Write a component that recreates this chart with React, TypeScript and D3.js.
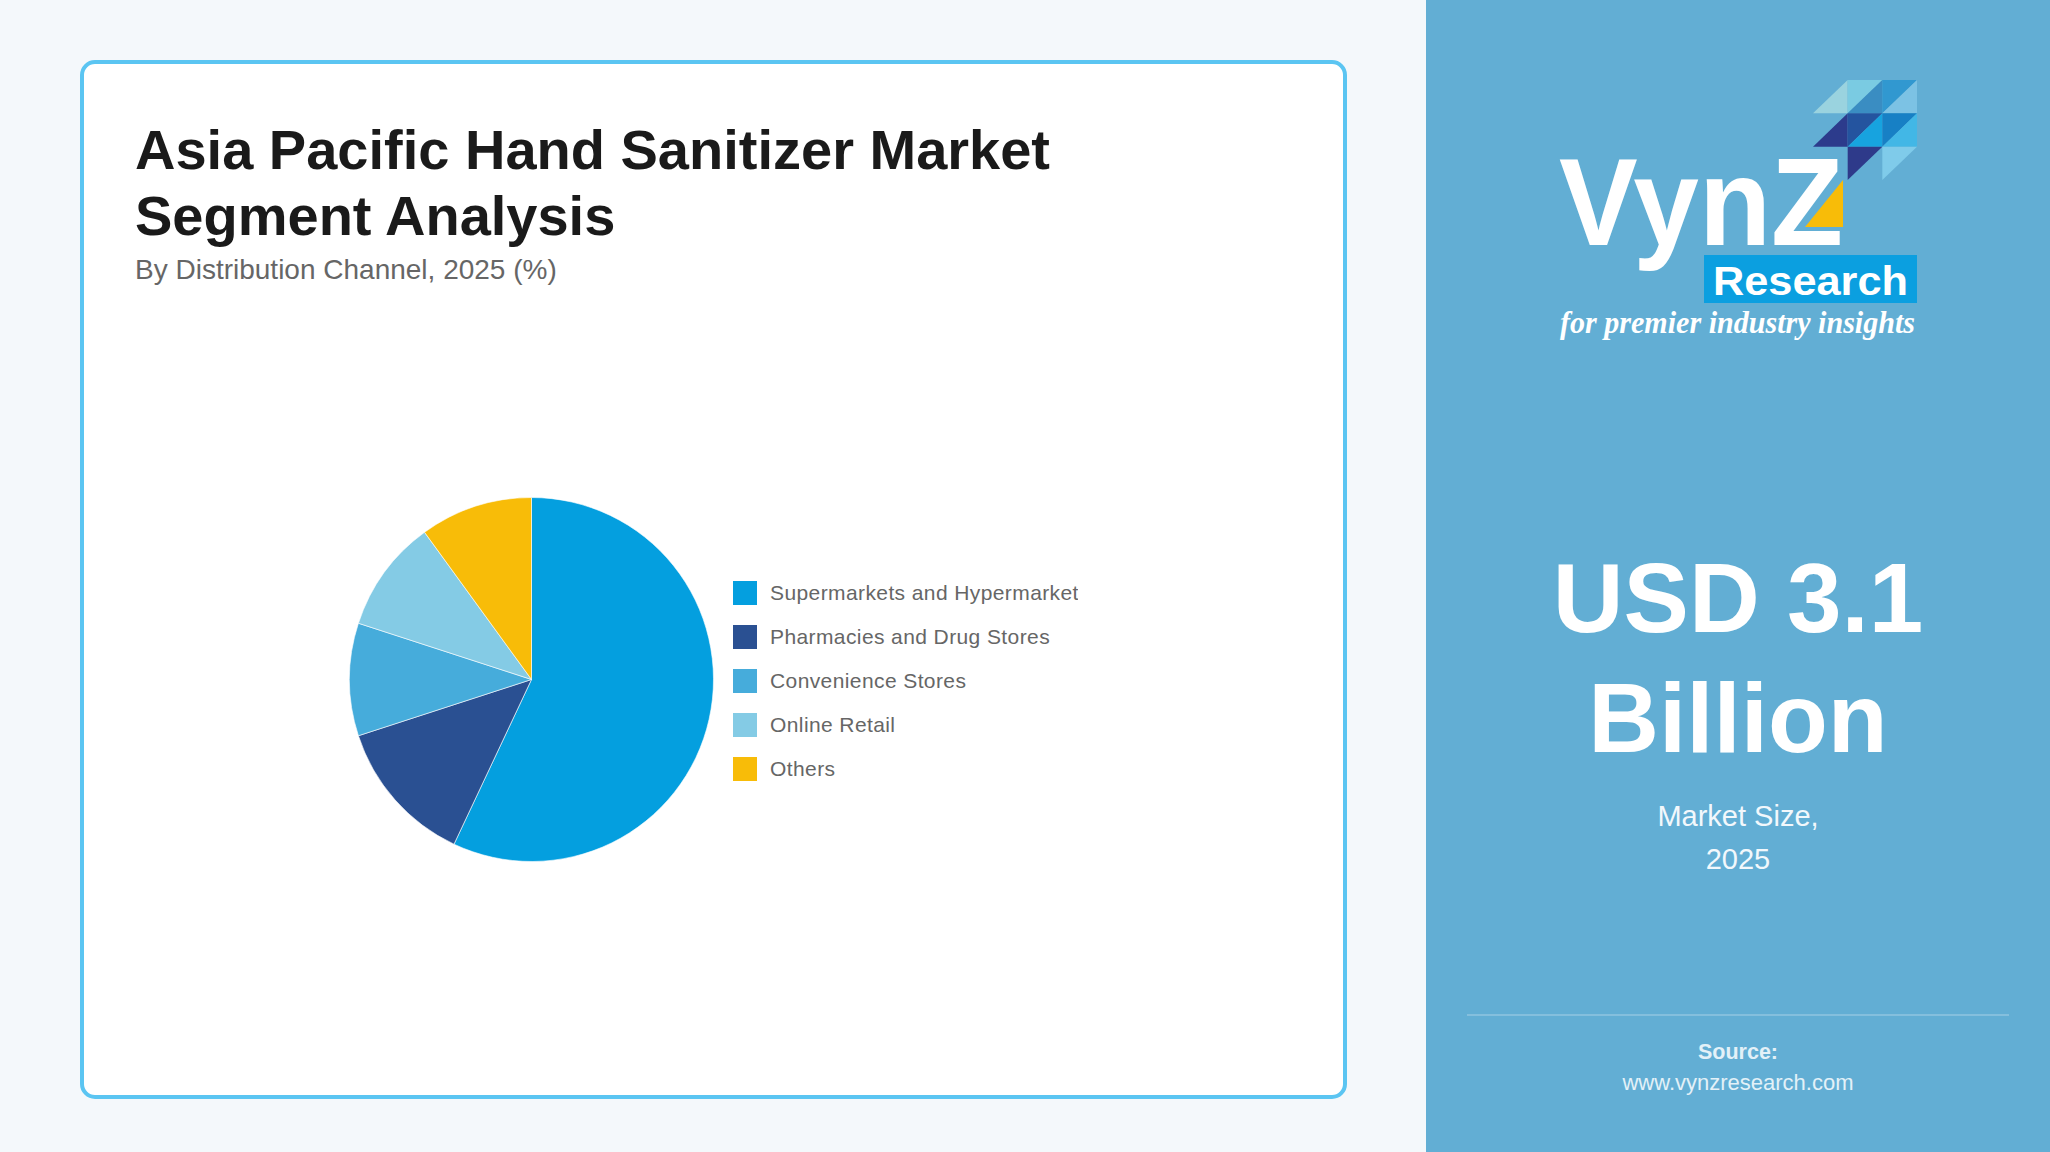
import React from "react";
import * as d3 from "d3";

const categories = [
  "Supermarkets and Hypermarket",
  "Pharmacies and Drug Stores",
  "Convenience Stores",
  "Online Retail",
  "Others",
];
const shares = [57, 13, 10, 10, 10];
const colors = ["#049FDF", "#2A5092", "#46ACDB", "#84CBE5", "#F8BC08"];

const titleLines = ["Asia Pacific Hand Sanitizer Market", "Segment Analysis"];
const subtitle = "By Distribution Channel, 2025 (%)";
const marketValue = ["USD 3.1", "Billion"];
const marketLabel = ["Market Size,", "2025"];
const sourceLabel = "Source:";
const sourceUrl = "www.vynzresearch.com";

// logo mosaic: [col,row] triangles in cell units with colours
const mosaic: { pts: number[][]; fill: string }[] = [
  { pts: [[0, 1], [1, 0], [1, 1]], fill: "#9AD3DF" },
  { pts: [[1, 0], [2, 0], [1, 1]], fill: "#7ACBE2" },
  { pts: [[2, 0], [2, 1], [1, 1]], fill: "#3A8DC2" },
  { pts: [[2, 0], [3, 0], [2, 1]], fill: "#3198D0" },
  { pts: [[3, 0], [3, 1], [2, 1]], fill: "#7CC2E4" },
  { pts: [[1, 1], [1, 2], [0, 2]], fill: "#2C3B8C" },
  { pts: [[1, 1], [2, 1], [1, 2]], fill: "#24549F" },
  { pts: [[2, 1], [2, 2], [1, 2]], fill: "#17A3DF" },
  { pts: [[2, 1], [3, 1], [2, 2]], fill: "#1780C5" },
  { pts: [[3, 1], [3, 2], [2, 2]], fill: "#42B7E6" },
  { pts: [[1, 2], [2, 2], [1, 3]], fill: "#2E3A8A" },
  { pts: [[2, 2], [3, 2], [2, 3]], fill: "#7FCBEA" },
];

const W = 2050;
const H = 1152;
const FONT = "'Liberation Sans', Arial, Helvetica, sans-serif";

export default function App() {
  const cx = 531.5;
  const cy = 679.5;
  const r = 182;
  const pie = d3.pie<number>().sort(null).value((d) => d);
  const arcs = pie(shares);
  const arc = d3.arc<d3.PieArcDatum<number>>().innerRadius(0).outerRadius(r);

  const legendX = 733;
  const legendY0 = 581;
  const legendStep = 44;

  const panelX = 1426;
  const panelCx = (panelX + W) / 2;

  const mx = d3.scaleLinear().domain([0, 3]).range([1813, 1917]);
  const my = d3.scaleLinear().domain([0, 3]).range([80, 180]);

  return (
    <svg
      width={W}
      height={H}
      viewBox={`0 0 ${W} ${H}`}
      style={{ position: "absolute", left: 0, top: 0, display: "block" }}
      fontFamily={FONT}
    >
      <defs>
        <clipPath id="legendClip">
          <rect x={700} y={540} width={378} height={280} />
        </clipPath>
      </defs>
      <rect x={0} y={0} width={W} height={H} fill="#F4F8FB" />

      {/* card */}
      <rect
        x={82}
        y={62}
        width={1263}
        height={1035}
        rx={13}
        ry={13}
        fill="#FFFFFF"
        stroke="#5BC5F2"
        strokeWidth={4}
      />

      {/* title */}
      {titleLines.map((t, i) => (
        <text
          key={t}
          x={135}
          y={169 + i * 66}
          fontSize={56}
          fontWeight={700}
          fill="#1A1A1A"
        >
          {t}
        </text>
      ))}
      <text x={135} y={279} fontSize={28} fill="#666666">
        {subtitle}
      </text>

      {/* pie */}
      <g transform={`translate(${cx},${cy})`}>
        {arcs.map((a, i) => (
          <path
            key={categories[i]}
            d={arc(a) || ""}
            fill={colors[i]}
            stroke="#FFFFFF"
            strokeWidth={0.6}
          />
        ))}
      </g>

      {/* legend */}
      <g clipPath="url(#legendClip)">
        {categories.map((c, i) => (
          <g key={c} transform={`translate(${legendX},${legendY0 + i * legendStep})`}>
            <rect x={0} y={0} width={24} height={24} fill={colors[i]} />
            <text x={37} y={18.5} fontSize={21} fill="#666666" letterSpacing={0.4}>
              {c}
            </text>
          </g>
        ))}
      </g>

      {/* right panel */}
      <rect x={panelX} y={0} width={W - panelX} height={H} fill="#62AED4" />

      {/* logo */}
      <g>
        {mosaic.map((m, i) => (
          <polygon
            key={i}
            points={m.pts.map((p) => `${mx(p[0])},${my(p[1])}`).join(" ")}
            fill={m.fill}
          />
        ))}
        <text
          x={1559}
          y={245}
          fontSize={124}
          fontWeight={700}
          fill="#FFFFFF"
          textLength={284}
          lengthAdjust="spacingAndGlyphs"
        >
          VynZ
        </text>
        <polygon points="1843,180 1843,227 1805,227" fill="#F8BC08" />
        <rect x={1704} y={255} width={213} height={48} fill="#0B9FE0" />
        <text
          x={1713}
          y={295}
          fontSize={41}
          fontWeight={700}
          fill="#FFFFFF"
          textLength={195}
          lengthAdjust="spacingAndGlyphs"
        >
          Research
        </text>
        <text
          x={1560}
          y={333}
          fontSize={31}
          fontStyle="italic"
          fontWeight={700}
          fontFamily="'Liberation Serif', 'DejaVu Serif', serif"
          fill="#FFFFFF"
          textLength={355}
          lengthAdjust="spacingAndGlyphs"
        >
          for premier industry insights
        </text>
      </g>

      {marketValue.map((t, i) => (
        <text
          key={t}
          x={panelCx}
          y={632 + i * 120}
          fontSize={98}
          fontWeight={700}
          fill="#FFFFFF"
          textAnchor="middle"
        >
          {t}
        </text>
      ))}
      {marketLabel.map((t, i) => (
        <text
          key={t}
          x={panelCx}
          y={826 + i * 42.5}
          fontSize={29}
          fill="#F2F8FC"
          textAnchor="middle"
        >
          {t}
        </text>
      ))}
      <line
        x1={1467}
        x2={2009}
        y1={1015}
        y2={1015}
        stroke="#FFFFFF"
        strokeOpacity={0.22}
        strokeWidth={2}
      />
      <text
        x={panelCx}
        y={1058.5}
        fontSize={21.5}
        fontWeight={700}
        fill="#E3F1F8"
        textAnchor="middle"
      >
        {sourceLabel}
      </text>
      <text x={panelCx} y={1089.5} fontSize={22} fill="#E3F1F8" textAnchor="middle">
        {sourceUrl}
      </text>
    </svg>
  );
}
